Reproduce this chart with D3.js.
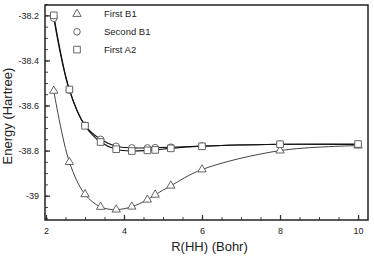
<!DOCTYPE html>
<html lang="en">
<head>
<meta charset="utf-8">
<title>Energy vs R(HH)</title>
<script src="https://d3js.org/d3.v7.min.js"></script>
<style type="text/css">
    body { margin: 0; background: #fff; }
    text { font-family: "Liberation Sans", Arial, sans-serif; fill: #222; }
</style>
</head>
<body>
<script type="text/javascript">
// data
var rHH = [2.2, 2.6, 3.0, 3.4, 3.8, 4.2, 4.6, 4.8, 5.2, 6.0, 8.0, 10.0];
var firstB1  = [-38.535, -38.851, -38.994, -39.050, -39.062, -39.049, -39.018, -38.996, -38.956, -38.884, -38.800, -38.778];
var secondB1 = [-38.213, -38.532, -38.688, -38.750, -38.781, -38.788, -38.788, -38.787, -38.785, -38.780, -38.772, -38.773];
var firstA2  = [-38.200, -38.529, -38.690, -38.762, -38.794, -38.802, -38.799, -38.797, -38.790, -38.781, -38.772, -38.771];
var seriesNames = ["First B1", "Second B1", "First A2"];
var xTicks = [2, 4, 6, 8, 10];
var yTicks = [-39, -38.8, -38.6, -38.4, -38.2];

var w = 374, h = 264;
var padL = 45, padR = 368, padT = 5, padB = 220;

var x = d3.scaleLinear().domain([1.975, 10.255]).range([padL, padR]);
var y = d3.scaleLinear().domain([-39.108, -38.154]).range([padB, padT]);

var svg = d3.select("body").append("svg")
    .attr("width", w)
    .attr("height", h);

// minor ticks
var xMinor = d3.range(2, 10.01, 0.5);
var yMinor = d3.range(-39.1, -38.15, 0.05);

svg.append("g")
    .attr("transform", "translate(0," + padB + ")")
    .call(d3.axisBottom(x).tickValues(xMinor).tickSize(-3).tickFormat(""))
    .call(function(g) { g.select(".domain").remove(); g.selectAll("line").attr("stroke", "#444"); });
svg.append("g")
    .attr("transform", "translate(" + padL + ",0)")
    .call(d3.axisLeft(y).tickValues(yMinor).tickSize(-3).tickFormat(""))
    .call(function(g) { g.select(".domain").remove(); g.selectAll("line").attr("stroke", "#444"); });

// major ticks + labels
var xAxis = svg.append("g")
    .attr("transform", "translate(0," + padB + ")")
    .call(d3.axisBottom(x).tickValues(xTicks).tickSize(-5).tickPadding(8).tickFormat(d3.format("d")));
xAxis.select(".domain").remove();
xAxis.selectAll("line").attr("stroke", "#333").attr("stroke-width", 1.3);
xAxis.selectAll("text").attr("font-size", "9px").attr("font-family", "Liberation Sans, Arial, sans-serif").attr("fill", "#222");

var yAxis = svg.append("g")
    .attr("transform", "translate(" + padL + ",0)")
    .call(d3.axisLeft(y).tickValues(yTicks).tickSize(-5).tickPadding(6)
        .tickFormat(function(d) { return String(+d.toFixed(1)); }));
yAxis.select(".domain").remove();
yAxis.selectAll("line").attr("stroke", "#333").attr("stroke-width", 1.3);
yAxis.selectAll("text").attr("font-size", "9px").attr("font-family", "Liberation Sans, Arial, sans-serif").attr("fill", "#222");

// frame
svg.append("rect")
    .attr("x", padL).attr("y", padT)
    .attr("width", padR - padL).attr("height", padB - padT)
    .attr("fill", "none")
    .attr("stroke", "#222")
    .attr("stroke-width", 1.5);

// axis titles
svg.append("text")
    .attr("x", (padL + padR) / 2 + 3)
    .attr("y", 251)
    .attr("text-anchor", "middle")
    .attr("font-size", "13px")
    .text("R(HH) (Bohr)");

svg.append("text")
    .attr("transform", "translate(12," + 116 + ") rotate(-90)")
    .attr("text-anchor", "middle")
    .attr("font-size", "13px")
    .text("Energy (Hartree)");

// curves
var allSeries = [firstB1, secondB1, firstA2];
var lineColors = ["#444", "#111", "#111"];
var lineWidths = [1, 1.1, 1.1];
var shapes = [d3.symbolTriangle, d3.symbolCircle, d3.symbolSquare];
var shapeSizes = [30, 34, 44];

var line = d3.line()
    .x(function(d) { return x(d[0]); })
    .y(function(d) { return y(d[1]); })
    .curve(d3.curveCatmullRom.alpha(0.5));

allSeries.forEach(function(vals, i) {
    var pts = rHH.map(function(r, k) { return [r, vals[k]]; });
    svg.append("path")
        .datum(pts)
        .attr("d", line)
        .attr("fill", "none")
        .attr("stroke", lineColors[i])
        .attr("stroke-width", lineWidths[i]);
});

allSeries.forEach(function(vals, i) {
    var pts = rHH.map(function(r, k) { return [r, vals[k]]; });
    svg.append("g").selectAll("path")
        .data(pts)
        .enter()
        .append("path")
        .attr("transform", function(d) { return "translate(" + x(d[0]) + "," + y(d[1]) + ")"; })
        .attr("d", d3.symbol().type(shapes[i]).size(shapeSizes[i]))
        .attr("fill", "#fff")
        .attr("stroke", "#555")
        .attr("stroke-width", 0.9);
});

// legend
var legend = svg.append("g").attr("transform", "translate(77,14)");
seriesNames.forEach(function(name, i) {
    legend.append("path")
        .attr("transform", "translate(0," + (i * 17.8) + ")")
        .attr("d", d3.symbol().type(shapes[i]).size(shapeSizes[i]))
        .attr("fill", "#fff")
        .attr("stroke", "#555")
        .attr("stroke-width", 0.9);
    legend.append("text")
        .attr("x", 27)
        .attr("y", i * 17.8 + 3.3)
        .attr("font-size", "9.5px")
        .text(name);
});
</script>
</body>
</html>
